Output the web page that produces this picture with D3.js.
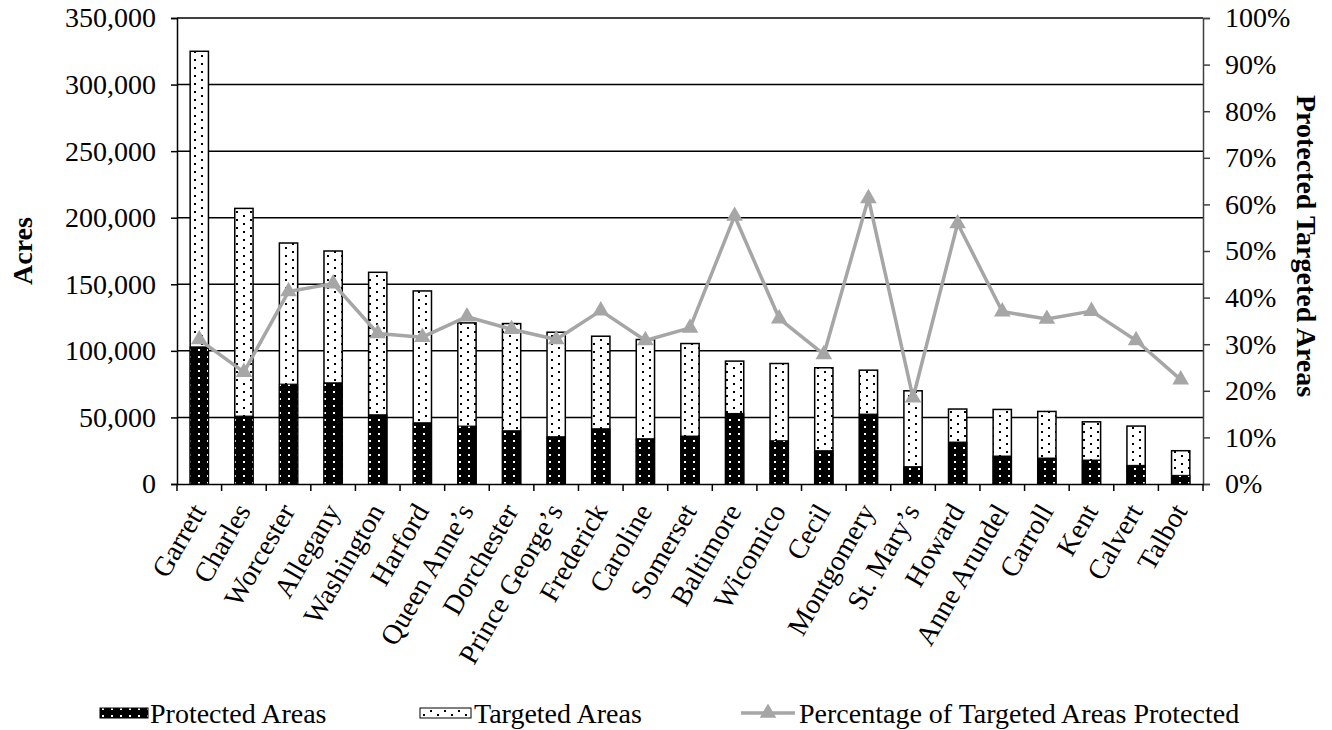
<!doctype html>
<html>
<head>
<meta charset="utf-8">
<title>Protected vs Targeted Areas by County</title>
<script src="https://cdn.jsdelivr.net/npm/d3@7"></script>
<style>
  body { margin: 0; background: #fff; }
  svg text { font-family: "Liberation Serif", "Times New Roman", serif; fill: #000; }
</style>
</head>
<body>
<div id="chart-area"></div>
<script>
var counties = ["Garrett", "Charles", "Worcester", "Allegany", "Washington", "Harford", "Queen Anne\u2019s",
    "Dorchester", "Prince George\u2019s", "Frederick", "Caroline", "Somerset", "Baltimore", "Wicomico", "Cecil",
    "Montgomery", "St. Mary\u2019s", "Howard", "Anne Arundel", "Carroll", "Kent", "Calvert", "Talbot"];
var targeted = [325000, 207000, 181000, 175000, 159000, 145000, 121000, 120500, 114000, 111000, 108500, 105500,
    92300, 90500, 87300, 85500, 70000, 56300, 56000, 54500, 46700, 43500, 25000];
var protectedAreas = [103000, 51000, 75000, 76000, 52000, 46000, 43500, 40000, 35500, 41500, 34000, 36000,
    53000, 32500, 25000, 52500, 13000, 31500, 21000, 19500, 18000, 14000, 6500];
var pctProtected = [0.31, 0.24, 0.413, 0.43, 0.323, 0.315, 0.359, 0.332, 0.31, 0.372, 0.308, 0.335,
    0.575, 0.355, 0.278, 0.613, 0.185, 0.559, 0.37, 0.354, 0.371, 0.308, 0.224];
var leftTicks = [0, 50000, 100000, 150000, 200000, 250000, 300000, 350000];
var rightTicks = [0, 0.1, 0.2, 0.3, 0.4, 0.5, 0.6, 0.7, 0.8, 0.9, 1.0];

var W = 1332, H = 730;
var margin = { left: 177, right: 129, top: 18, bottom: 246 };
var width = W - margin.left - margin.right,
    height = H - margin.top - margin.bottom;
var fs = "28px";

var svg = d3.select("#chart-area").append("svg").attr("width", W).attr("height", H);

// Patterns
var defs = svg.append("defs");
var pt = defs.append("pattern").attr("id", "dotsWhite").attr("patternUnits", "userSpaceOnUse")
    .attr("width", 14).attr("height", 8);
pt.append("rect").attr("width", 14).attr("height", 8).attr("fill", "#fff");
pt.append("rect").attr("x", 3).attr("y", 1).attr("width", 2).attr("height", 2).attr("fill", "#000");
pt.append("rect").attr("x", 10).attr("y", 5).attr("width", 2).attr("height", 2).attr("fill", "#000");

var pp = defs.append("pattern").attr("id", "dotsBlack").attr("patternUnits", "userSpaceOnUse")
    .attr("width", 9).attr("height", 7);
pp.append("rect").attr("width", 9).attr("height", 7).attr("fill", "#000");
pp.append("rect").attr("x", 3).attr("y", 2).attr("width", 2).attr("height", 2).attr("fill", "#fff");

var g = svg.append("g").attr("transform", "translate(" + margin.left + "," + margin.top + ")");

// Scales
var x = d3.scaleBand().domain(counties).range([0, width]).paddingInner(0.59).paddingOuter(0.295);
var y = d3.scaleLinear().domain([0, 350000]).range([height, 0]);
var y2 = d3.scaleLinear().domain([0, 1]).range([height, 0]);

// Gridlines
g.append("g").selectAll("line").data(leftTicks.slice(1)).enter().append("line")
    .attr("x1", 0).attr("x2", width)
    .attr("y1", function(d){ return y(d); }).attr("y2", function(d){ return y(d); })
    .attr("stroke", "#000").attr("stroke-width", 1.5);

// Bars
var bars = g.append("g").selectAll("g").data(counties).enter().append("g");
bars.append("rect")
    .attr("x", function(d){ return x(d); })
    .attr("width", x.bandwidth())
    .attr("y", function(d, i){ return y(targeted[i]); })
    .attr("height", function(d, i){ return height - y(targeted[i]); })
    .attr("fill", "url(#dotsWhite)").attr("stroke", "#000").attr("stroke-width", 1.5);
bars.append("rect")
    .attr("x", function(d){ return x(d); })
    .attr("width", x.bandwidth())
    .attr("y", function(d, i){ return y(protectedAreas[i]); })
    .attr("height", function(d, i){ return height - y(protectedAreas[i]); })
    .attr("fill", "url(#dotsBlack)").attr("stroke", "#000").attr("stroke-width", 1);

// Left axis
var yAxisCall = d3.axisLeft(y).tickValues(leftTicks).tickSize(6).tickPadding(15).tickFormat(d3.format(","));
var yAxis = g.append("g").attr("class", "y axis").call(yAxisCall);
yAxis.select(".domain").attr("stroke-width", 1.5);
yAxis.selectAll(".tick line").attr("stroke-width", 1.5);
yAxis.selectAll("text").attr("font-size", fs);

// Right axis
var y2AxisCall = d3.axisRight(y2).tickValues(rightTicks).tickSize(7).tickPadding(15).tickFormat(d3.format(".0%"));
var y2Axis = g.append("g").attr("class", "y2 axis").attr("transform", "translate(" + width + ",0)").call(y2AxisCall);
y2Axis.select(".domain").attr("stroke", "#404040").attr("stroke-width", 1.5);
y2Axis.selectAll(".tick line").attr("stroke", "#404040").attr("stroke-width", 1.5);
y2Axis.selectAll("text").attr("font-size", fs);

// X axis
var xAxisCall = d3.axisBottom(x).tickSize(0).tickPadding(0);
var xAxis = g.append("g").attr("class", "x axis").attr("transform", "translate(0," + height + ")").call(xAxisCall);
xAxis.select(".domain").attr("stroke-width", 1.5);
xAxis.selectAll("text")
    .attr("font-size", fs)
    .attr("text-anchor", "end")
    .attr("y", 0).attr("dy", "0.35em")
    .attr("transform", "translate(-1,22) rotate(-60)");
// tick marks between categories
var bounds = d3.range(counties.length + 1).map(function(k){ return k * x.step(); });
xAxis.selectAll(".between").data(bounds).enter().append("line").attr("class", "between")
    .attr("x1", function(d){ return d; }).attr("x2", function(d){ return d; })
    .attr("y1", 0).attr("y2", 7).attr("stroke", "#000").attr("stroke-width", 1.5);

// Percentage line
var line = d3.line()
    .x(function(d, i){ return x(counties[i]) + x.bandwidth() / 2; })
    .y(function(d){ return y2(d); });
g.append("path").datum(pctProtected).attr("d", line)
    .attr("fill", "none").attr("stroke", "#a6a6a6").attr("stroke-width", 3.5).attr("stroke-linejoin", "round");
var tri = d3.symbol().type(d3.symbolTriangle).size(120);
g.append("g").selectAll("path").data(pctProtected).enter().append("path")
    .attr("d", tri)
    .attr("transform", function(d, i){ return "translate(" + (x(counties[i]) + x.bandwidth() / 2) + "," + y2(d) + ")"; })
    .attr("fill", "#a6a6a6");

// Axis titles
svg.append("text").attr("transform", "translate(32," + (margin.top + height / 2) + ") rotate(-90)")
    .attr("text-anchor", "middle").attr("font-size", fs).attr("font-weight", "bold").text("Acres");
svg.append("text").attr("transform", "translate(1297," + (margin.top + height / 2 - 5) + ") rotate(90)")
    .attr("text-anchor", "middle").attr("font-size", fs).attr("font-weight", "bold").text("Protected Targeted Areas");

// Legend
var legend = svg.append("g").attr("transform", "translate(0,713)");
legend.append("rect").attr("x", 100).attr("y", -5).attr("width", 48).attr("height", 10)
    .attr("fill", "url(#dotsBlack)").attr("stroke", "#000");
legend.append("text").attr("x", 150).attr("y", 0).attr("dy", "0.35em").attr("font-size", fs).text("Protected Areas");
legend.append("rect").attr("x", 420).attr("y", -5).attr("width", 51).attr("height", 10)
    .attr("fill", "url(#dotsWhite)").attr("stroke", "#000");
legend.append("text").attr("x", 474).attr("y", 0).attr("dy", "0.35em").attr("font-size", fs).text("Targeted Areas");
legend.append("line").attr("x1", 741).attr("x2", 795).attr("y1", 0).attr("y2", 0)
    .attr("stroke", "#a6a6a6").attr("stroke-width", 3.5);
legend.append("path").attr("d", tri).attr("transform", "translate(768,0)").attr("fill", "#a6a6a6");
legend.append("text").attr("x", 799).attr("y", 0).attr("dy", "0.35em").attr("font-size", fs).text("Percentage of Targeted Areas Protected");
</script>
</body>
</html>
